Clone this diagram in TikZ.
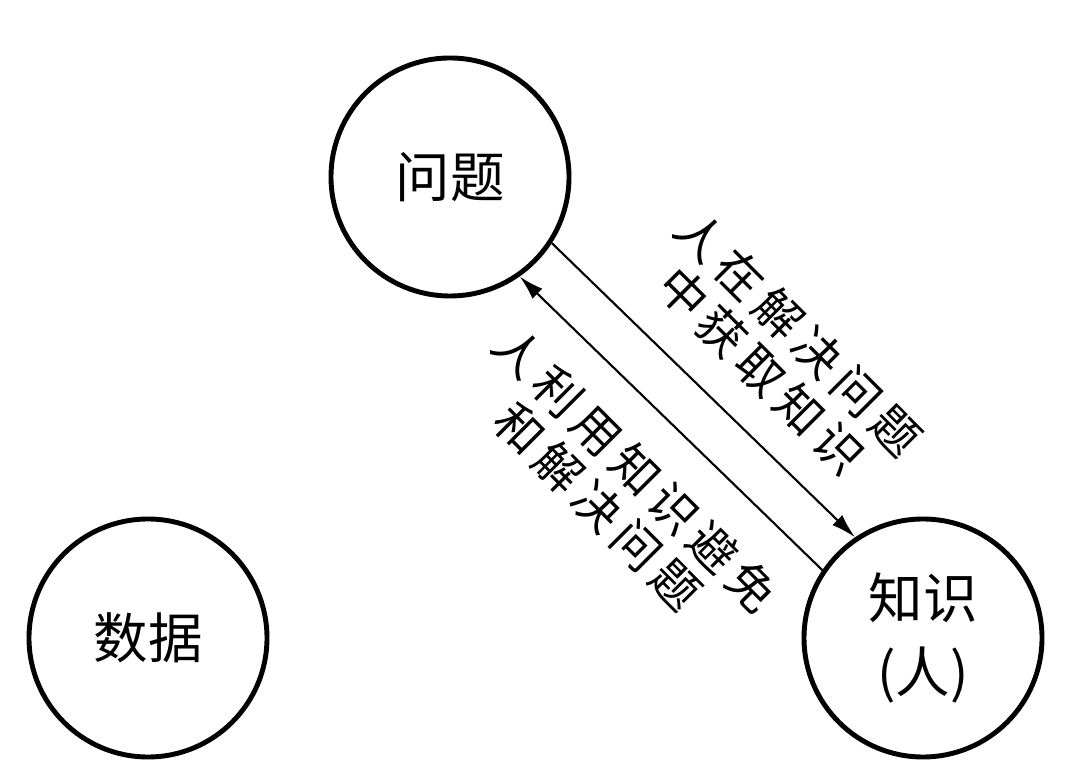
\documentclass[tikz,border=0pt]{standalone}
\usepackage{fontspec}
\setmainfont{Noto Sans CJK SC}
\newfontfamily\lblfont[LetterSpace=16]{Noto Sans CJK SC}
\usepackage{tikz}
\usetikzlibrary{arrows.meta, positioning, calc}
\tikzset{
  %% Concept circle
  concept/.style={
    circle, draw=black, line width=1.4pt,
    minimum size=2.38cm, inner sep=0pt,
    align=center, font=\fontsize{15.5}{21}\selectfont
  },
  %% Arrow
  arr/.style={-{Latex[length=7pt,width=4pt]},
              draw=black, line width=0.6pt},
  %% Rotated edge label
  rlabel/.style={
    rotate=-45, align=center, inner sep=0pt,
    font=\lblfont\fontsize{13.5}{15}\selectfont
  },
}

\begin{document}
\begin{tikzpicture}
  \useasboundingbox (0,0) rectangle (10.8,7.74);
  %% Circles
  \node[concept] (prob) at (4.50,5.97) {问题};
  \node[concept] (data) at (1.48,1.36) {数据};
  \node[concept] (know) at (9.23,1.36) {知识\\(人)};
  %% Arrows
  \draw[arr] (prob.-33.4) -- (know.124.6);
  \draw[arr] (know.146.8) -- (prob.-55.2);
  %% Labels
  \node[rlabel] (gain) at (7.80,4.22) {人在解决问题\\中获取知识};
  \node[rlabel] (use) at (6.17,2.86) {人利用知识避免\\和解决问题};
\end{tikzpicture}
\end{document}
